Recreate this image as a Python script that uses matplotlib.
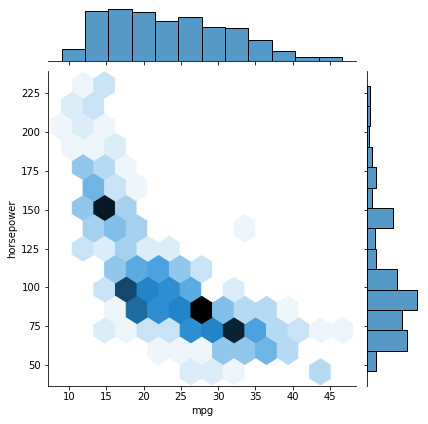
import colorsys
import numpy as np
import matplotlib
matplotlib.use("Agg")
import matplotlib.pyplot as plt
from matplotlib.colors import to_rgb, to_rgba, LinearSegmentedColormap

# ---------------- data ----------------
# hex-cell readings: representative mpg / horsepower of each occupied cell and its count
cell_mpg = [11.89, 14.78,
            10.45, 13.34,
            9.00, 11.89, 14.78,
            10.45, 13.34, 16.23,
            11.89, 14.78, 17.68,
            13.34, 16.23, 19.12,
            11.89, 14.78, 17.68,
            13.34, 16.23, 19.12, 33.58,
            11.89, 14.78, 17.68, 20.57, 23.46,
            16.23, 19.12, 22.01, 24.91, 27.80,
            14.78, 17.68, 20.57, 23.46, 26.35, 32.14,
            16.23, 19.12, 22.01, 24.91, 27.80, 30.69, 33.58, 36.48, 39.37,
            14.78, 17.68, 20.57, 23.46, 26.35, 29.25, 32.14, 35.03, 37.92, 40.82, 43.71, 46.60,
            22.01, 24.91, 27.80, 30.69, 33.58, 36.48, 39.37,
            26.35, 29.25, 32.14, 43.71]
cell_hp = [230.00, 230.00,
           216.86, 216.86,
           203.71, 203.71, 203.71,
           190.57, 190.57, 190.57,
           177.43, 177.43, 177.43,
           164.29, 164.29, 164.29,
           151.14, 151.14, 151.14,
           138.00, 138.00, 138.00, 138.00,
           124.86, 124.86, 124.86, 124.86, 124.86,
           111.71, 111.71, 111.71, 111.71, 111.71,
           98.57, 98.57, 98.57, 98.57, 98.57, 98.57,
           85.43, 85.43, 85.43, 85.43, 85.43, 85.43, 85.43, 85.43, 85.43,
           72.29, 72.29, 72.29, 72.29, 72.29, 72.29, 72.29, 72.29, 72.29, 72.29, 72.29, 72.29,
           59.14, 59.14, 59.14, 59.14, 59.14, 59.14, 59.14,
           46.00, 46.00, 46.00, 46.00]
cell_n = [1, 3,
          2, 3,
          1, 2, 1,
          1, 1, 2,
          6, 4, 1,
          8, 3, 1,
          6, 22, 5,
          5, 7, 5, 1,
          3, 2, 5, 2, 2,
          6, 9, 10, 6, 3,
          3, 18, 13, 12, 9, 2,
          1, 15, 12, 13, 24, 7, 4, 4, 1,
          2, 1, 3, 3, 12, 13, 21, 10, 4, 3, 1, 1,
          1, 1, 1, 6, 6, 8, 4,
          2, 2, 1, 4]

# marginal histograms
mpg_range = (9.0, 46.6)
mpg_counts = [13, 57, 59, 56, 45, 50, 38, 37, 24, 11, 4, 4]
hp_range = (46.0, 230.0)
hp_counts = [16, 66, 58, 82, 50, 16, 14, 42, 8, 16, 8, 4, 6, 6]

x_label = "mpg"
y_label = "horsepower"

# ---------------- figure (JointGrid-like layout) ----------------
W, H = 428, 424
fig = plt.figure(figsize=(W / 72, H / 72), dpi=72)


def px_axes(left, top, right, bottom, **kw):
    return fig.add_axes([left / W, 1 - bottom / H, (right - left) / W, (bottom - top) / H], **kw)


ax_joint = px_axes(47.5, 71.3, 356.0, 385.5)
ax_mx = px_axes(47.5, 6.3, 356.0, 60.5, sharex=ax_joint)
ax_my = px_axes(366.6, 71.3, 419.8, 385.5, sharey=ax_joint)

ax_mx.tick_params(axis="x", labelbottom=False)
ax_my.tick_params(axis="y", labelleft=False)
ax_mx.tick_params(axis="y", left=False, labelleft=False)
ax_my.tick_params(axis="x", bottom=False, labelbottom=False)
for ax in (ax_joint, ax_mx, ax_my):
    ax.spines["top"].set_visible(False)
    ax.spines["right"].set_visible(False)
ax_mx.spines["left"].set_visible(False)
ax_my.spines["bottom"].set_visible(False)

# colormap as seaborn jointplot builds it
h, l, s = colorsys.rgb_to_hls(*to_rgb("C0"))
colors = [colorsys.hls_to_rgb(h, lv, s) for lv in np.linspace(1, 0, 12)]
cmap = LinearSegmentedColormap.from_list("blend", colors)

x = np.repeat(cell_mpg, cell_n)
y = np.repeat(cell_hp, cell_n)
ax_joint.hexbin(x, y, gridsize=13, cmap=cmap)

# marginal histograms
mpg_edges = np.linspace(mpg_range[0], mpg_range[1], len(mpg_counts) + 1)
hp_edges = np.linspace(hp_range[0], hp_range[1], len(hp_counts) + 1)
bar_kw = dict(facecolor=to_rgba("C0", 0.75), edgecolor="black", linewidth=1.0, align="edge")
ax_mx.bar(mpg_edges[:-1], mpg_counts, np.diff(mpg_edges), **bar_kw)
ax_my.barh(hp_edges[:-1], hp_counts, np.diff(hp_edges), **bar_kw)

ax_joint.set_xlabel(x_label)
ax_joint.set_ylabel(y_label)

fig.savefig("out.png", dpi=72)
